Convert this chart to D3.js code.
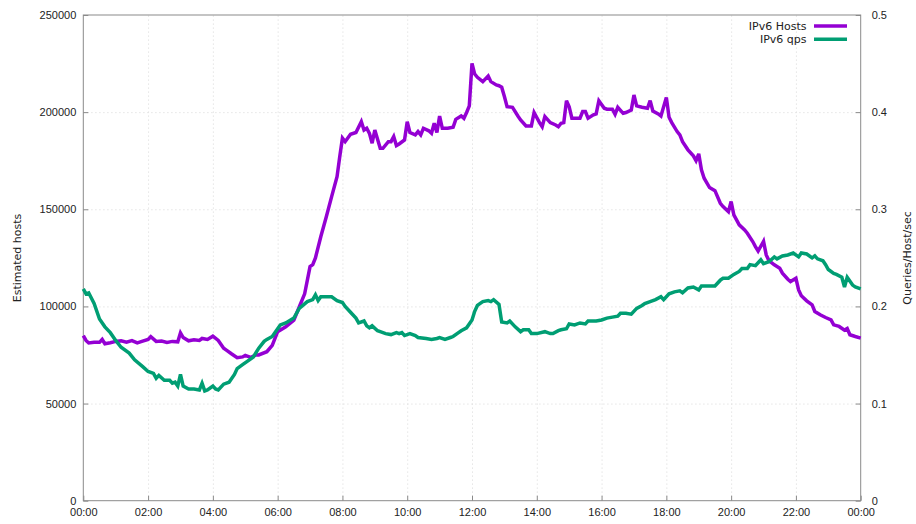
<!DOCTYPE html>
<html>
<head>
<meta charset="utf-8">
<script src="https://cdn.jsdelivr.net/npm/d3@7"></script>
<style>
  html, body { margin: 0; padding: 0; background: #fff; }
  svg { display: block; font-family: "DejaVu Sans", sans-serif; }
  .axis text { font-size: 11px; fill: #222; }
  .axis path { display: none; }
  .axis line { stroke: #8a8a8a; stroke-width: 1; }
  .grid line { stroke: #dedede; stroke-width: 1; stroke-dasharray: 1.2 2.8; }
  .grid path { display: none; }
</style>
</head>
<body>
<svg id="chart" width="916" height="524"></svg>
<script>
// Sample times (minutes since midnight) and estimated IPv6 hosts
const hostMinutes = [0,5,10,20,30,35,40,50,60,70,80,90,100,110,120,125,135,145,155,165,175,180,185,195,205,215,220,230,240,250,260,265,275,285,295,300,310,320,325,340,350,360,375,390,400,410,420,425,430,440,450,460,470,475,480,485,495,505,515,520,525,530,535,540,550,555,565,570,575,580,585,595,600,605,615,620,625,630,640,645,650,655,660,665,675,685,690,700,705,710,715,720,725,730,740,750,755,765,770,775,780,785,795,805,810,820,830,835,845,850,855,865,875,880,885,890,895,900,905,915,920,925,930,935,945,950,955,965,970,980,985,990,1000,1005,1015,1020,1025,1035,1045,1050,1055,1065,1070,1080,1085,1090,1100,1105,1110,1120,1130,1135,1140,1145,1150,1160,1170,1180,1185,1195,1200,1205,1215,1225,1230,1240,1245,1250,1260,1265,1270,1280,1290,1295,1305,1310,1320,1325,1330,1340,1350,1355,1365,1375,1385,1390,1400,1410,1415,1420,1430,1440];
const hostValues = [85000,82500,81200,81500,81500,83000,80800,81300,82000,82300,81600,82400,81200,82100,83000,84400,82000,82200,81500,82000,81800,86400,84000,82300,82800,82500,83500,83000,84700,82500,78500,77500,75500,73600,74000,74800,73800,75000,75000,76700,80000,87000,89500,92900,99700,106500,120500,121500,125000,136000,146000,156500,166800,177000,186600,184800,188600,189500,195100,190800,191700,189100,184000,190800,181400,181400,184800,184800,187400,182800,183600,185700,195100,189500,188300,190000,188300,191700,190400,189100,194300,189500,198000,191700,191700,192200,196300,198000,196800,199800,203200,225100,219600,217900,215700,218600,215700,214000,213600,212800,208000,202800,202500,198000,196000,192900,192900,199800,194600,192500,197700,194600,193400,192500,194300,194600,205900,202800,196900,196900,196900,200300,200300,196900,198600,199100,205900,202000,201500,201500,198900,202500,199400,199800,201100,208800,203200,202500,202000,205900,200600,199100,198000,207600,197400,194600,190000,188300,184800,180600,177500,175000,178500,170300,166000,161200,159600,153100,151400,148800,154000,147100,142000,139400,137700,133400,130800,128500,133500,126500,123600,121400,119700,117100,114000,112800,114500,108500,105500,102900,100800,97400,95700,94300,93100,90500,89700,87800,88600,85400,84500,83700];

// Sample times (minutes since midnight) and queries per host per second
const qpsMinutes = [0,5,10,20,30,40,50,60,70,85,95,110,120,130,135,140,150,160,165,170,175,180,185,195,205,215,220,225,230,240,245,250,260,270,280,285,295,305,315,325,335,340,350,360,365,375,390,400,415,425,430,435,440,450,460,470,480,485,495,505,510,520,525,530,535,545,550,560,570,580,585,590,595,605,615,620,635,645,655,660,670,680,685,695,700,710,720,725,730,740,750,755,760,770,775,785,790,800,810,815,825,830,840,855,865,870,880,885,895,900,910,920,930,935,950,960,970,980,990,995,1005,1015,1025,1035,1040,1050,1060,1070,1075,1085,1095,1105,1110,1120,1130,1140,1145,1160,1170,1180,1185,1195,1205,1215,1220,1230,1235,1245,1250,1255,1260,1270,1280,1285,1295,1305,1315,1325,1330,1340,1350,1355,1360,1370,1375,1380,1390,1395,1405,1410,1415,1425,1430,1440];
const qpsValues = [0.218,0.213,0.214,0.203,0.187,0.179,0.173,0.165,0.158,0.152,0.145,0.138,0.133,0.131,0.126,0.129,0.124,0.124,0.121,0.122,0.118,0.130,0.118,0.115,0.115,0.114,0.121,0.113,0.114,0.118,0.115,0.114,0.120,0.122,0.130,0.136,0.140,0.144,0.148,0.157,0.164,0.166,0.169,0.177,0.181,0.183,0.188,0.198,0.205,0.207,0.212,0.206,0.210,0.210,0.210,0.206,0.204,0.200,0.194,0.188,0.183,0.185,0.180,0.178,0.180,0.175,0.174,0.172,0.171,0.173,0.172,0.173,0.170,0.172,0.170,0.168,0.167,0.166,0.167,0.168,0.166,0.168,0.169,0.173,0.175,0.178,0.186,0.195,0.201,0.205,0.206,0.205,0.207,0.202,0.184,0.183,0.185,0.179,0.174,0.176,0.176,0.172,0.172,0.174,0.172,0.172,0.175,0.176,0.177,0.182,0.181,0.183,0.182,0.185,0.185,0.186,0.188,0.189,0.190,0.193,0.193,0.192,0.198,0.201,0.203,0.205,0.207,0.210,0.207,0.213,0.215,0.216,0.214,0.219,0.220,0.217,0.221,0.221,0.221,0.227,0.229,0.229,0.233,0.236,0.239,0.239,0.243,0.242,0.245,0.248,0.244,0.246,0.251,0.249,0.252,0.253,0.255,0.251,0.255,0.254,0.250,0.252,0.249,0.247,0.243,0.238,0.234,0.233,0.230,0.220,0.230,0.222,0.220,0.218];

// Axis ticks
const timeTicks = [0,120,240,360,480,600,720,840,960,1080,1200,1320,1440];
const hostTicks = [0,50000,100000,150000,200000,250000];
const qpsTicks = [0,0.1,0.2,0.3,0.4,0.5];

const seriesNames = ["IPv6 Hosts", "IPv6 qps"];
const seriesColors = ["#9400d3", "#009e73"];

const svg = d3.select("#chart");
const plotLeft = 83.3, plotRight = 860.7, plotTop = 15, plotBottom = 500.7;

const x = d3.scaleLinear().domain([0, 1440]).range([plotLeft, plotRight]);
const y = d3.scaleLinear().domain([0, 250000]).range([plotBottom, plotTop]);
const y2 = d3.scaleLinear().domain([0, 0.5]).range([plotBottom, plotTop]);

const fmtTime = m => {
  const h = Math.floor(m / 60) % 24, mm = m % 60;
  return String(h).padStart(2, "0") + ":" + String(mm).padStart(2, "0");
};

// Dotted grid
svg.append("g").attr("class", "grid")
  .attr("transform", `translate(0,${plotBottom})`)
  .call(d3.axisBottom(x).tickValues(timeTicks.slice(1, -1)).tickSize(-(plotBottom - plotTop)).tickFormat(""));
svg.append("g").attr("class", "grid")
  .attr("transform", `translate(${plotLeft},0)`)
  .call(d3.axisLeft(y).tickValues(hostTicks.slice(1, -1)).tickSize(-(plotRight - plotLeft)).tickFormat(""));

// Plot border
svg.append("rect")
  .attr("x", plotLeft).attr("y", plotTop)
  .attr("width", plotRight - plotLeft).attr("height", plotBottom - plotTop)
  .attr("fill", "none").attr("stroke", "#8a8a8a").attr("stroke-width", 1);

// Axes with inward ticks
svg.append("g").attr("class", "axis")
  .attr("transform", `translate(0,${plotBottom})`)
  .call(d3.axisBottom(x).tickValues(timeTicks).tickFormat(fmtTime).tickSizeInner(-5).tickSizeOuter(0).tickPadding(8));

svg.append("g").attr("class", "axis")
  .attr("transform", `translate(${plotLeft},0)`)
  .call(d3.axisLeft(y).tickValues(hostTicks).tickFormat(d3.format("d")).tickSizeInner(-5).tickSizeOuter(0).tickPadding(7));

svg.append("g").attr("class", "axis")
  .attr("transform", `translate(${plotRight},0)`)
  .call(d3.axisRight(y2).tickValues(qpsTicks).tickFormat(d => d === 0 ? "0" : d3.format(".1f")(d)).tickSizeInner(-5).tickSizeOuter(0).tickPadding(11));

// Axis titles
svg.append("text")
  .attr("transform", "translate(21,258) rotate(-90)")
  .attr("text-anchor", "middle").attr("font-size", 11).attr("fill", "#222")
  .text("Estimated hosts");
svg.append("text")
  .attr("transform", "translate(911,258) rotate(-90)")
  .attr("text-anchor", "middle").attr("font-size", 11).attr("fill", "#222")
  .text("Queries/Host/sec");

// Series lines
const hostLine = d3.line().x((d, i) => x(hostMinutes[i])).y(d => y(d));
const qpsLine = d3.line().x((d, i) => x(qpsMinutes[i])).y(d => y2(d));

svg.append("path").datum(hostValues)
  .attr("d", hostLine).attr("fill", "none")
  .attr("stroke", seriesColors[0]).attr("stroke-width", 3.5)
  .attr("stroke-linejoin", "miter").attr("stroke-miterlimit", 3);

svg.append("path").datum(qpsValues)
  .attr("d", qpsLine).attr("fill", "none")
  .attr("stroke", seriesColors[1]).attr("stroke-width", 3.5)
  .attr("stroke-linejoin", "miter").attr("stroke-miterlimit", 3);

// Legend
const legend = svg.append("g");
seriesNames.forEach((name, i) => {
  const ly = 26 + i * 13.3;
  legend.append("text")
    .attr("x", 806.5).attr("y", ly).attr("dy", "0.35em")
    .attr("text-anchor", "end").attr("font-size", 11).attr("fill", "#222")
    .text(name);
  legend.append("line")
    .attr("x1", 814).attr("x2", 847).attr("y1", ly).attr("y2", ly)
    .attr("stroke", seriesColors[i]).attr("stroke-width", 3.5);
});
</script>
</body>
</html>
